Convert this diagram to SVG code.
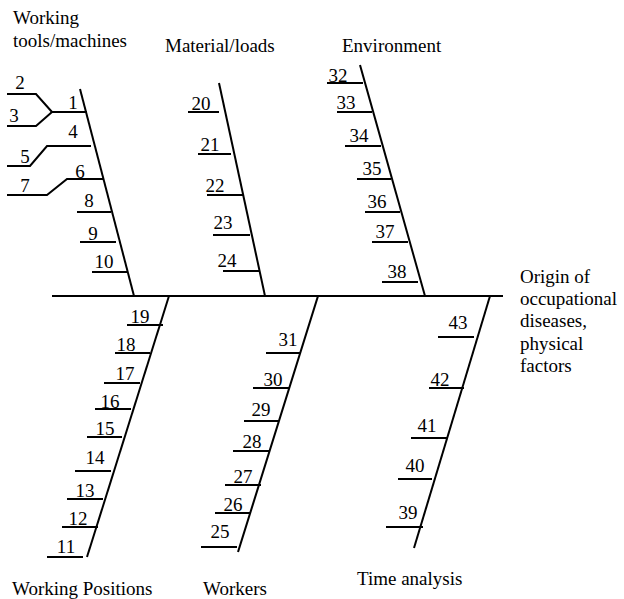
<svg xmlns="http://www.w3.org/2000/svg" width="624" height="599" viewBox="0 0 624 599" font-family="'Liberation Serif', 'DejaVu Serif', serif">
<style>
line,polyline{stroke:#000;stroke-width:2;fill:none}
text{font-family:'Liberation Serif','DejaVu Serif',serif;font-size:19px;fill:#000}
.n{text-anchor:middle}
</style>
<rect width="624" height="599" fill="#fff"/>
<g id="connectors">
<line id="spine" x1="52" y1="296" x2="503" y2="296"/>
<line x1="80" y1="89" x2="134" y2="296"/>
<line x1="219" y1="83" x2="265" y2="296"/>
<line x1="360" y1="65" x2="425" y2="296"/>
<line x1="169" y1="296" x2="87" y2="557"/>
<line x1="318" y1="296" x2="238" y2="552"/>
<line x1="490" y1="296" x2="414" y2="548"/>
</g>
<g id="working-tools">
<text x="13" y="24">Working</text>
<text x="13" y="47">tools/machines</text>
<line x1="52" y1="112" x2="87" y2="112"/><text class="n" x="73" y="109">1</text>
<polyline points="7,94 36,94 52,112"/><text class="n" x="20" y="89">2</text>
<polyline points="7,126 36,126 52,112"/><text class="n" x="14" y="122">3</text>
<polyline points="7,166 30,166 47,146 91,146"/><text class="n" x="73" y="138">4</text><text class="n" x="25" y="163">5</text>
<polyline points="7,195 47,195 67,179 104,179"/><text class="n" x="80" y="178">6</text><text class="n" x="25" y="192">7</text>
<line x1="77" y1="212" x2="111" y2="212"/><text class="n" x="89" y="207">8</text>
<line x1="80" y1="242" x2="116" y2="242"/><text class="n" x="93" y="240">9</text>
<line x1="92" y1="272" x2="127" y2="272"/><text class="n" x="104" y="268">10</text>
</g>
<g id="material-loads">
<text x="165" y="52">Material/loads</text>
<line x1="188" y1="112" x2="219" y2="112"/><text class="n" x="201" y="110">20</text>
<line x1="198" y1="154" x2="231" y2="154"/><text class="n" x="210" y="151">21</text>
<line x1="207" y1="195" x2="243" y2="195"/><text class="n" x="215" y="192">22</text>
<line x1="213" y1="235" x2="250" y2="235"/><text class="n" x="223" y="229">23</text>
<line x1="223" y1="271" x2="259" y2="271"/><text class="n" x="227" y="267">24</text>
</g>
<g id="environment">
<text x="342" y="52">Environment</text>
<line x1="327" y1="83" x2="363" y2="83"/><text class="n" x="338" y="82">32</text>
<line x1="337" y1="112" x2="372" y2="112"/><text class="n" x="346" y="109">33</text>
<line x1="345" y1="146" x2="381" y2="146"/><text class="n" x="359" y="142">34</text>
<line x1="357" y1="179" x2="391" y2="179"/><text class="n" x="372" y="175">35</text>
<line x1="365" y1="212" x2="400" y2="212"/><text class="n" x="377" y="208">36</text>
<line x1="372" y1="242" x2="408" y2="242"/><text class="n" x="385" y="238">37</text>
<line x1="382" y1="282" x2="418" y2="282"/><text class="n" x="397" y="278">38</text>
</g>
<g id="effect">
<text x="520" y="283">Origin of</text>
<text x="520" y="305">occupational</text>
<text x="520" y="327">diseases,</text>
<text x="520" y="350">physical</text>
<text x="520" y="372">factors</text>
</g>
<g id="working-positions">
<text x="12" y="595">Working Positions</text>
<line x1="127" y1="325" x2="163" y2="325"/><text class="n" x="140" y="323">19</text>
<line x1="115" y1="353" x2="150" y2="353"/><text class="n" x="126" y="351">18</text>
<line x1="104" y1="383" x2="140" y2="383"/><text class="n" x="125" y="380">17</text>
<line x1="95" y1="409" x2="131" y2="409"/><text class="n" x="110" y="408">16</text>
<line x1="87" y1="437" x2="122" y2="437"/><text class="n" x="105" y="435">15</text>
<line x1="75" y1="471" x2="111" y2="471"/><text class="n" x="95" y="464">14</text>
<line x1="67" y1="499" x2="103" y2="499"/><text class="n" x="85" y="497">13</text>
<line x1="62" y1="527" x2="98" y2="527"/><text class="n" x="78" y="525">12</text>
<line x1="47" y1="557" x2="83" y2="557"/><text class="n" x="66" y="553">11</text>
</g>
<g id="workers">
<text x="203" y="595">Workers</text>
<line x1="266" y1="353" x2="301" y2="353"/><text class="n" x="288" y="346">31</text>
<line x1="253" y1="388" x2="289" y2="388"/><text class="n" x="273" y="386">30</text>
<line x1="244" y1="421" x2="279" y2="421"/><text class="n" x="261" y="416">29</text>
<line x1="233" y1="451" x2="269" y2="451"/><text class="n" x="252" y="448">28</text>
<line x1="225" y1="485" x2="261" y2="485"/><text class="n" x="243" y="483">27</text>
<line x1="215" y1="513" x2="251" y2="513"/><text class="n" x="233" y="511">26</text>
<line x1="201" y1="547" x2="237" y2="547"/><text class="n" x="220" y="538">25</text>
</g>
<g id="time-analysis">
<text x="357" y="585">Time analysis</text>
<line x1="438" y1="337" x2="474" y2="337"/><text class="n" x="458" y="329">43</text>
<line x1="429" y1="388" x2="464" y2="388"/><text class="n" x="440" y="386">42</text>
<line x1="411" y1="438" x2="448" y2="438"/><text class="n" x="427" y="432">41</text>
<line x1="398" y1="479" x2="432" y2="479"/><text class="n" x="415" y="472">40</text>
<line x1="386" y1="527" x2="423" y2="527"/><text class="n" x="408" y="519">39</text>
</g>
</svg>
